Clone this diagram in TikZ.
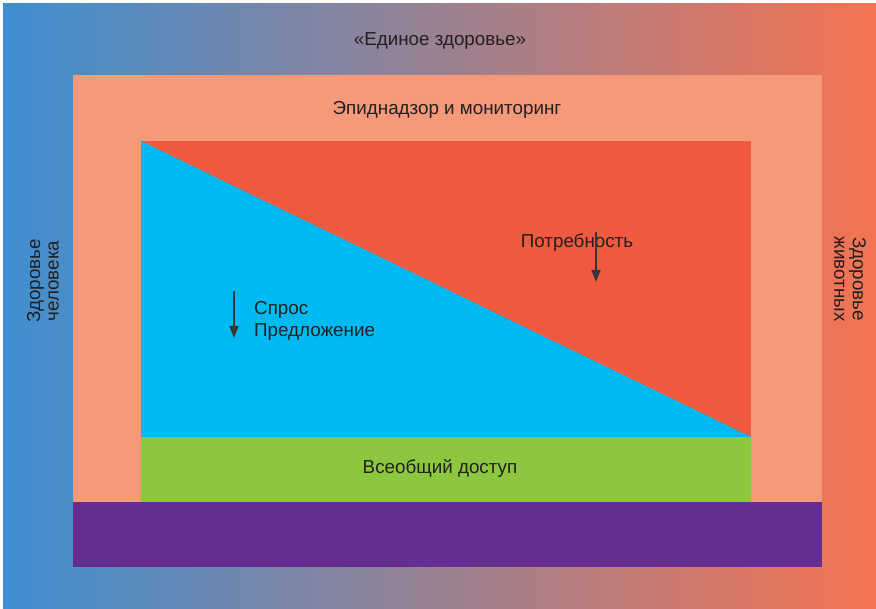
\documentclass[tikz,border=0pt]{standalone}
\usepackage{fontspec}
\setmainfont{Liberation Sans}
\usetikzlibrary{arrows.meta,positioning}
\definecolor{gradblue}{HTML}{3E8FD1}
\definecolor{gradorange}{HTML}{F57352}
\definecolor{salmon}{HTML}{F5997B}
\definecolor{needred}{HTML}{F05A3F}
\definecolor{supplyblue}{HTML}{00B9F1}
\definecolor{accessgreen}{HTML}{8DC63F}
\definecolor{basepurple}{HTML}{642D8F}
\definecolor{inkdark}{HTML}{231F20}

\begin{document}
\begin{tikzpicture}[
  x=1pt,y=-1pt,
  every node/.style={font=\fontsize{18.8}{22}\selectfont,text=inkdark,inner sep=0pt},
  side/.style={align=center,font=\fontsize{18.8}{18.5}\selectfont},
  flow/.style={-{Triangle[length=12pt,width=9pt]},line width=1.5pt,draw=inkdark!90}
]
  \useasboundingbox (0,0) rectangle (876,609);
  % outer frame with gradient
  \shade[left color=gradblue,right color=gradorange,shading angle=90]
    (3,4) rectangle (876,609);
  \fill[salmon] (73,75) rectangle (822,502);
  \fill[needred] (141,141) rectangle (751,437);
  \fill[supplyblue] (141,141) -- (751,437) -- (141,437) -- cycle;
  \fill[accessgreen] (141,437) rectangle (751,502);
  \fill[basepurple] (73,502) rectangle (822,567);

  % labels
  \node (onehealth) at (440,41) {«Единое здоровье»};
  \node (surveil) at (447,110) {Эпиднадзор и мониторинг};
  \node[side,rotate=90] (human) at (43,281) {Здоровье\\человека};
  \node[side,rotate=-90] (animal) at (850,279) {Здоровье\\животных};
  \node (need) at (577,243) {Потребность};
  \node[align=left,anchor=west] (demand) at (254,321) {Спрос\\Предложение};
  \node (access) at (440,468) {Всеобщий доступ};

  % arrows
  \coordinate (needtop) at (596,232);
  \coordinate (needbot) at (596,282);
  \coordinate (demtop) at (234,291);
  \coordinate (dembot) at (234,338);
  \draw[flow] (needtop) -- (needbot);
  \draw[flow] (demtop) -- (dembot);
\end{tikzpicture}
\end{document}
